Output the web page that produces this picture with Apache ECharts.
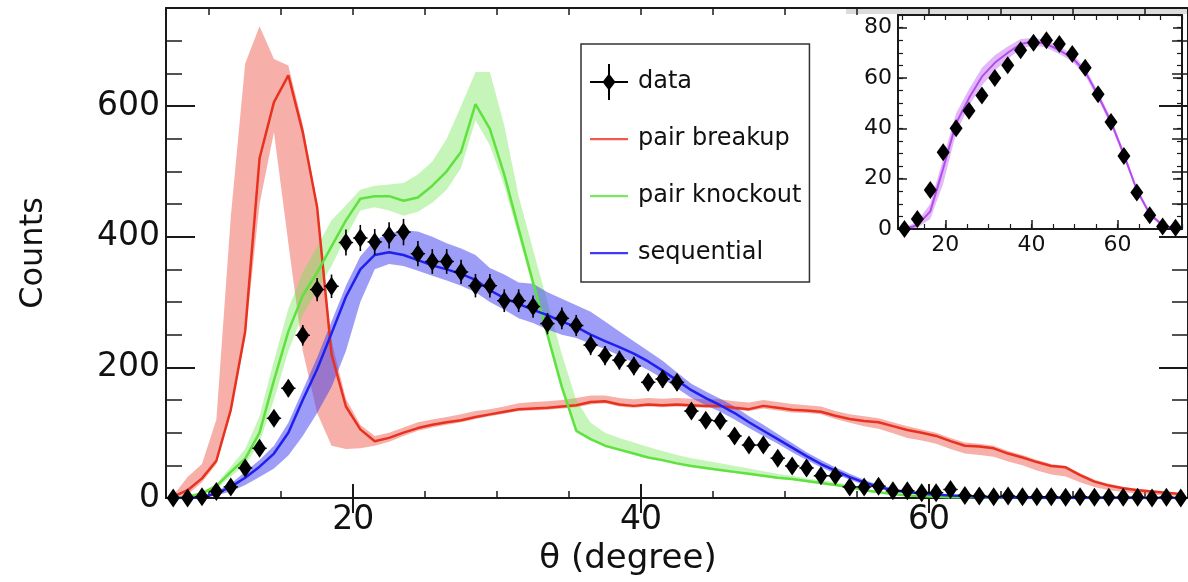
<!DOCTYPE html>
<html>
<head>
<meta charset="utf-8">
<script src="https://cdn.jsdelivr.net/npm/echarts@6/dist/echarts.min.js"></script>
<style>
html,body{margin:0;padding:0;background:#fff;}
#c{width:1188px;height:582px;}
</style>
</head>
<body>
<div id="c"></div>
<script>
// ---------- main plot data (bin centres in degrees) ----------
const xs = [
  7.5, 8.5, 9.5, 10.5, 11.5, 12.5, 13.5, 14.5, 15.5, 16.5,
  17.5, 18.5, 19.5, 20.5, 21.5, 22.5, 23.5, 24.5, 25.5, 26.5,
  27.5, 28.5, 29.5, 30.5, 31.5, 32.5, 33.5, 34.5, 35.5, 36.5,
  37.5, 38.5, 39.5, 40.5, 41.5, 42.5, 43.5, 44.5, 45.5, 46.5,
  47.5, 48.5, 49.5, 50.5, 51.5, 52.5, 53.5, 54.5, 55.5, 56.5,
  57.5, 58.5, 59.5, 60.5, 61.5, 62.5, 63.5, 64.5, 65.5, 66.5,
  67.5, 68.5, 69.5, 70.5, 71.5, 72.5, 73.5, 74.5, 75.5, 76.5,
  77.5
];
const dataCounts = [
  0, 0, 2, 10, 17, 46, 76, 122, 168, 249,
  319, 324, 391, 398, 392, 402, 407, 374, 362, 362,
  346, 325, 325, 302, 302, 293, 267, 275, 264, 234,
  218, 211, 202, 177, 182, 177, 133, 119, 118, 95,
  81, 81, 61, 49, 46, 34, 34, 17, 17, 18,
  11, 11, 8, 8, 13, 4, 3, 2, 3, 2,
  2, 2, 1, 2, 1, 1, 1, 1, 0, 1,
  0
];
const dataErr = [
  0, 0, 1.4, 3.2, 4.1, 6.8, 8.7, 11, 13, 15.8,
  17.9, 18, 19.8, 20, 19.8, 20, 20.2, 19.3, 19, 19,
  18.6, 18, 18, 17.4, 17.4, 17.1, 16.3, 16.6, 16.2, 15.3,
  14.8, 14.5, 14.2, 13.3, 13.5, 13.3, 11.5, 10.9, 10.9, 9.7,
  9, 9, 7.8, 7, 6.8, 5.8, 5.8, 4.1, 4.1, 4.2,
  3.3, 3.3, 2.8, 2.8, 3.6, 2, 1.7, 1.4, 1.7, 1.4,
  1.4, 1.4, 1, 1.4, 1, 1, 1, 1, 0, 1,
  0
];
const breakupLine = [
  2, 12, 30, 57, 135, 255, 520, 606, 647, 560,
  445, 220, 140, 105, 87, 92, 100, 107, 112, 116,
  119, 124, 128, 132, 136, 137, 138, 140, 142, 147,
  148, 143, 141, 143, 142, 143, 142, 141, 141, 138,
  136, 141, 138, 135, 134, 132, 126, 121, 118, 116,
  110, 104, 100, 95, 87, 80, 79, 76, 68, 62,
  55, 49, 47, 35, 25, 19, 15, 12, 10, 8,
  6
];
const breakupLo = [
  0, 5, 24, 52, 128, 245, 450, 560, 390, 225,
  130, 80, 75, 76, 80, 86, 95, 103, 108, 112,
  116, 121, 125, 129, 133, 134, 135, 137, 139, 143,
  145, 140, 138, 140, 139, 140, 139, 138, 138, 135,
  133, 137, 134, 131, 130, 128, 121, 115, 110, 106,
  99, 92, 88, 83, 75, 68, 66, 63, 56, 50,
  42, 36, 33, 24, 17, 12, 9, 7, 5, 4,
  3
];
const breakupHi = [
  4, 32, 52, 120, 430, 665, 722, 672, 662, 572,
  450, 240, 152, 112, 95, 100, 108, 116, 120, 124,
  128, 133, 136, 140, 145, 147, 148, 150, 153, 157,
  157, 153, 151, 153, 152, 153, 152, 151, 151, 148,
  146, 150, 147, 144, 142, 140, 133, 128, 125, 122,
  116, 110, 105, 100, 92, 85, 83, 80, 72, 66,
  58, 52, 49, 38, 28, 22, 17, 14, 12, 9,
  7
];
const knockoutLine = [
  0, 2, 7, 18, 40, 60, 100, 180, 255, 310,
  345, 385, 425, 458, 462, 462, 455, 460, 478, 500,
  530, 603, 565, 495, 412, 330, 250, 170, 103, 90,
  80, 74, 68, 62, 58, 53, 49, 46, 43, 40,
  37, 34, 31, 29, 26, 23, 20, 17, 12, 9,
  6, 4, 3, 2, 1, 1, 1, 0, 0, 0,
  0, 0, 0, 0, 0, 0, 0, 0, 0, 0,
  0
];
const knockoutLo = [
  0, 1, 5, 14, 33, 50, 85, 150, 225, 280,
  318, 355, 400, 440, 445, 440, 432, 438, 452, 472,
  505, 578, 540, 478, 400, 322, 243, 163, 100, 88,
  79, 72, 66, 60, 56, 51, 47, 44, 41, 38,
  35, 32, 29, 27, 24, 21, 18, 15, 10, 7,
  4, 3, 2, 1, 0, 0, 0, 0, 0, 0,
  0, 0, 0, 0, 0, 0, 0, 0, 0, 0,
  0
];
const knockoutHi = [
  1, 3, 10, 22, 48, 75, 125, 210, 290, 345,
  385, 425, 448, 472, 478, 480, 482, 495, 515, 550,
  600, 652, 652, 570, 462, 380, 300, 220, 150, 115,
  100, 92, 85, 78, 72, 66, 61, 57, 53, 49,
  45, 41, 37, 34, 30, 27, 24, 20, 14, 10,
  7, 5, 3, 2, 2, 1, 1, 0, 0, 0,
  0, 0, 0, 0, 0, 0, 0, 0, 0, 0,
  0
];
const sequentialLine = [
  0, 0, 1, 7, 17, 31, 48, 68, 100, 150,
  197, 252, 308, 350, 372, 376, 372, 364, 356, 350,
  343, 334, 318, 306, 297, 288, 280, 270, 262, 250,
  240, 231, 221, 209, 195, 180, 165, 153, 142, 130,
  116, 103, 90, 77, 64, 52, 42, 32, 24, 17,
  12, 9, 7, 5, 4, 3, 2, 1, 1, 0,
  0, 0, 0, 0, 0, 0, 0, 0, 0, 0,
  0
];
const sequentialLo = [
  0, 0, 0, 4, 10, 20, 32, 45, 65, 95,
  130, 170, 225, 300, 350, 358, 355, 348, 340, 333,
  325, 315, 300, 288, 275, 268, 258, 250, 245, 236,
  228, 218, 207, 196, 183, 168, 153, 142, 132, 120,
  107, 95, 83, 70, 58, 47, 37, 28, 20, 14,
  10, 7, 5, 4, 3, 2, 1, 0, 0, 0,
  0, 0, 0, 0, 0, 0, 0, 0, 0, 0,
  0
];
const sequentialHi = [
  0, 1, 3, 10, 22, 40, 58, 80, 115, 165,
  215, 270, 325, 370, 395, 405, 410, 408, 400, 390,
  382, 372, 352, 342, 330, 328, 315, 305, 295, 285,
  270, 255, 240, 225, 210, 192, 175, 163, 152, 140,
  125, 112, 98, 84, 70, 58, 47, 37, 28, 20,
  15, 11, 9, 7, 5, 4, 3, 2, 1, 1,
  0, 0, 0, 0, 0, 0, 0, 0, 0, 0,
  0
];

// ---------- inset data ----------
const insetX = [10.5, 13.5, 16.5, 19.5, 22.5, 25.5, 28.5, 31.5, 34.5, 37.5, 40.5,
                43.5, 46.5, 49.5, 52.5, 55.5, 58.5, 61.5, 64.5, 67.5, 70.5, 73.5];
const insetCounts = [0, 4, 15.5, 30.5, 40, 47, 53, 60, 65, 71, 74,
                     75, 73.5, 69.5, 64, 53.5, 42.5, 29, 14.5, 5.5, 1, 0.5];
const insetLine = [0, 1.5, 7, 24, 42, 52, 60.5, 66, 70, 73.5, 74.5,
                   73.5, 71, 68, 62.5, 53, 42.5, 29.5, 15.5, 6, 1.5, 0.2];
const insetLo = [0, 0.5, 4, 18, 38, 49, 57, 63, 67.5, 71.5, 73,
                 72, 69.5, 66.5, 61, 51.5, 41, 28, 14.5, 5, 1, 0];
const insetHi = [0.5, 3, 10, 28, 46, 55.5, 64, 69, 72.5, 75.5, 76,
                 75, 72.5, 69.5, 64, 54.5, 44, 31, 16.5, 7, 2, 0.5];

// ---------- ticks ----------
const mainXMinorTicks = [10, 15, 20, 25, 30, 35, 40, 45, 50, 55, 60, 65, 70, 75];
const mainXLabels = [20, 40, 60];
const mainYMajor = [0, 200, 400, 600];
const insetXMinorTicks = [10, 15, 20, 25, 30, 35, 40, 45, 50, 55, 60, 65, 70, 75];
const insetXLabels = [20, 40, 60];
const insetYMajor = [0, 20, 40, 60, 80];

// ---------- styles ----------
const FONT = 'DejaVu Sans';
const AX = '#1a1a1a';
const RED = '#e8321f', RED_BAND = 'rgba(236,80,64,0.45)';
const GREEN = '#5fe23f', GREEN_BAND = 'rgba(110,230,80,0.40)';
const BLUE = '#1f1ff0', BLUE_BAND = 'rgba(60,60,240,0.50)';
const PURPLE = '#b54af0', PURPLE_BAND = 'rgba(190,100,240,0.45)';
// legend icons drawn inside a 38 x 36 box
const ICON_DATA = 'path://M0,17h38v2h-38z M18,0h2v36h-2z M19,9.5L25.5,18L19,26.5L12.5,18z';
const ICON_LINE = 'path://M0,0h0.01v0.01h-0.01z M38,36h-0.01v-0.01h0.01z M0,17h38v2.2h-38z';

function pairs(x, y) { return x.map((v, i) => [v, y[i]]); }

function band(name, x, lo, hi, fill, xi, yi) {
  return {
    type: 'custom', name: name, xAxisIndex: xi, yAxisIndex: yi, z: 1, silent: true, clip: true,
    data: x.map((v, i) => [v, lo[i], hi[i]]),
    encode: { x: 0, y: [1, 2] },
    renderItem: function (params, api) {
      if (params.dataIndex !== 0) return null;
      const pts = [];
      for (let i = 0; i < x.length; i++) pts.push(api.coord([x[i], hi[i]]));
      for (let i = x.length - 1; i >= 0; i--) pts.push(api.coord([x[i], lo[i]]));
      return { type: 'polygon', shape: { points: pts }, style: { fill: fill, stroke: null } };
    }
  };
}
function line(name, x, y, color, xi, yi, w) {
  return {
    type: 'line', name: name, xAxisIndex: xi, yAxisIndex: yi, z: 2, silent: true,
    data: pairs(x, y), symbol: 'none', lineStyle: { color: color, width: w || 2.5 },
    itemStyle: { color: color }
  };
}

function xAx(opt) {
  return Object.assign({
    type: 'value', splitLine: { show: false },
    axisLine: { show: false, lineStyle: { color: AX, width: 2 } },
    axisTick: { show: false },
    axisLabel: { show: false }
  }, opt);
}

const chart = echarts.init(document.getElementById('c'), null, { renderer: 'canvas' });
const option = {
  animation: false,
  backgroundColor: '#fff',
  textStyle: { fontFamily: FONT },
  grid: [
    { left: 166, top: 8, right: -8, bottom: 84 },
    { left: 898, top: 15, width: 284, height: 214 }
  ],
  graphic: [
    { type: 'rect', left: 846, top: 9, shape: { width: 342, height: 5 }, style: { fill: '#dcdcdc' }, z: 0, silent: true }
  ],
  legend: {
    orient: 'vertical', left: 581, top: 44,
    padding: [20, 8, 11, 9], itemGap: 21, itemWidth: 38, itemHeight: 36,
    borderColor: '#333', borderWidth: 1.5, backgroundColor: '#fff',
    textStyle: { fontFamily: FONT, fontSize: 24, color: '#111', padding: [0, 0, 0, 5] },
    data: [
      { name: 'data', icon: ICON_DATA, itemStyle: { color: '#000', opacity: 1 } },
      { name: 'pair breakup', icon: ICON_LINE, itemStyle: { color: '#f05a4a' } },
      { name: 'pair knockout', icon: ICON_LINE, itemStyle: { color: '#78ea5c' } },
      { name: 'sequential', icon: ICON_LINE, itemStyle: { color: '#3c3cf2' } }
    ]
  },
  xAxis: [
    xAx({ gridIndex: 0, position: 'bottom', min: 7, max: 78,
      axisLine: { show: true, onZero: false, lineStyle: { color: AX, width: 2 } },
      axisTick: { show: true, inside: true, length: 7, customValues: mainXMinorTicks, lineStyle: { color: AX, width: 1.5 } },
      axisLabel: { show: true, customValues: mainXLabels, margin: 6, fontSize: 33, color: '#111', fontFamily: FONT },
      name: 'θ (degree)', nameLocation: 'middle', nameGap: 40,
      nameTextStyle: { fontSize: 34, color: '#111', fontFamily: FONT, padding: [0, 98, 0, 0] }
    }),
    xAx({ gridIndex: 0, position: 'bottom', min: 7, max: 78,
      axisTick: { show: true, inside: true, length: 14, customValues: mainXLabels, lineStyle: { color: AX, width: 2 } } }),
    xAx({ gridIndex: 0, position: 'top', min: 7, max: 78,
      axisLine: { show: true, onZero: false, lineStyle: { color: AX, width: 2 } },
      axisTick: { show: true, inside: true, length: 7, customValues: mainXMinorTicks, lineStyle: { color: AX, width: 1.5 } } }),
    xAx({ gridIndex: 0, position: 'top', min: 7, max: 78,
      axisTick: { show: true, inside: true, length: 15, customValues: mainXLabels, lineStyle: { color: AX, width: 2 } } }),
    // inset
    xAx({ gridIndex: 1, position: 'bottom', min: 9, max: 75,
      axisLine: { show: true, onZero: false, lineStyle: { color: AX, width: 2 } },
      axisTick: { show: true, inside: true, length: 5, customValues: insetXMinorTicks, lineStyle: { color: AX, width: 1.2 } },
      axisLabel: { show: true, customValues: insetXLabels, margin: 5, fontSize: 22, color: '#111', fontFamily: FONT } }),
    xAx({ gridIndex: 1, position: 'bottom', min: 9, max: 75,
      axisTick: { show: true, inside: true, length: 9, customValues: insetXLabels, lineStyle: { color: AX, width: 1.5 } } }),
    xAx({ gridIndex: 1, position: 'top', min: 9, max: 75,
      axisLine: { show: true, onZero: false, lineStyle: { color: AX, width: 2 } },
      axisTick: { show: true, inside: true, length: 5, customValues: insetXMinorTicks, lineStyle: { color: AX, width: 1.2 } } })
  ],
  yAxis: [
    xAx({ gridIndex: 0, position: 'left', min: 0, max: 750, interval: 50,
      axisLine: { show: true, onZero: false, lineStyle: { color: AX, width: 2 } },
      axisTick: { show: true, inside: true, length: 16, lineStyle: { color: AX, width: 1.5 } },
      axisLabel: { show: true, margin: 6, fontSize: 33, color: '#111', fontFamily: FONT,
        formatter: v => (v % 200 === 0 ? String(v) : '') },
      name: 'Counts', nameLocation: 'middle', nameGap: 116,
      nameTextStyle: { fontSize: 32, color: '#111', fontFamily: FONT } }),
    xAx({ gridIndex: 0, position: 'left', min: 0, max: 750,
      axisTick: { show: true, inside: true, length: 29, customValues: mainYMajor, lineStyle: { color: AX, width: 2 } } }),
    xAx({ gridIndex: 0, position: 'right', min: 0, max: 750, interval: 50,
      axisLine: { show: true, onZero: false, lineStyle: { color: AX, width: 2 } },
      axisTick: { show: true, inside: true, length: 16, lineStyle: { color: AX, width: 1.5 } } }),
    xAx({ gridIndex: 0, position: 'right', min: 0, max: 750,
      axisTick: { show: true, inside: true, length: 29, customValues: mainYMajor, lineStyle: { color: AX, width: 2 } } }),
    // inset
    xAx({ gridIndex: 1, position: 'left', min: 0, max: 85, interval: 5,
      axisLine: { show: true, onZero: false, lineStyle: { color: AX, width: 2 } },
      axisTick: { show: true, inside: true, length: 5, lineStyle: { color: AX, width: 1.2 } },
      axisLabel: { show: true, margin: 6, fontSize: 22, color: '#111', fontFamily: FONT,
        formatter: v => (v % 20 === 0 ? String(v) : '') } }),
    xAx({ gridIndex: 1, position: 'left', min: 0, max: 85,
      axisTick: { show: true, inside: true, length: 9, customValues: insetYMajor, lineStyle: { color: AX, width: 1.5 } } }),
    xAx({ gridIndex: 1, position: 'right', min: 0, max: 85, interval: 5,
      axisLine: { show: true, onZero: false, lineStyle: { color: AX, width: 2 } },
      axisTick: { show: true, inside: true, length: 5, lineStyle: { color: AX, width: 1.2 } } }),
    xAx({ gridIndex: 1, position: 'right', min: 0, max: 85,
      axisTick: { show: true, inside: true, length: 9, customValues: insetYMajor, lineStyle: { color: AX, width: 1.5 } } })
  ],
  series: [
    band('breakup band', xs, breakupLo, breakupHi, RED_BAND, 0, 0),
    band('knockout band', xs, knockoutLo, knockoutHi, GREEN_BAND, 0, 0),
    band('sequential band', xs, sequentialLo, sequentialHi, BLUE_BAND, 0, 0),
    line('pair breakup', xs, breakupLine, RED, 0, 0),
    line('pair knockout', xs, knockoutLine, GREEN, 0, 0),
    line('sequential', xs, sequentialLine, BLUE, 0, 0),
    {
      type: 'custom', name: 'errors', xAxisIndex: 0, yAxisIndex: 0, z: 3, silent: true, clip: true,
      data: xs.map((v, i) => [v, dataCounts[i], dataErr[i]]),
      encode: { x: 0, y: 1 },
      renderItem: function (params, api) {
        const x = api.value(0), y = api.value(1), e = api.value(2);
        const a = api.coord([x, y - e]), b = api.coord([x, y + e]);
        const l = api.coord([x - 0.5, y]), r = api.coord([x + 0.5, y]);
        return {
          type: 'group', children: [
            { type: 'line', shape: { x1: a[0], y1: a[1], x2: b[0], y2: b[1] }, style: { stroke: '#000', lineWidth: 1.6 } },
            { type: 'line', shape: { x1: l[0], y1: l[1], x2: r[0], y2: r[1] }, style: { stroke: '#000', lineWidth: 1.4 } }
          ]
        };
      }
    },
    {
      type: 'scatter', name: 'data', xAxisIndex: 0, yAxisIndex: 0, z: 4, silent: true, clip: false,
      data: pairs(xs, dataCounts), symbol: 'diamond', symbolSize: [13, 19],
      itemStyle: { color: '#000', opacity: 1 }
    },
    // inset
    band('inset band', insetX, insetLo, insetHi, PURPLE_BAND, 4, 4),
    line('inset model', insetX, insetLine, PURPLE, 4, 4, 2),
    {
      type: 'scatter', name: 'inset data', xAxisIndex: 4, yAxisIndex: 4, z: 4, silent: true, clip: false,
      data: pairs(insetX, insetCounts), symbol: 'diamond', symbolSize: [13, 18],
      itemStyle: { color: '#000', opacity: 1 }
    }
  ]
};
chart.setOption(option);
</script>
</body>
</html>
